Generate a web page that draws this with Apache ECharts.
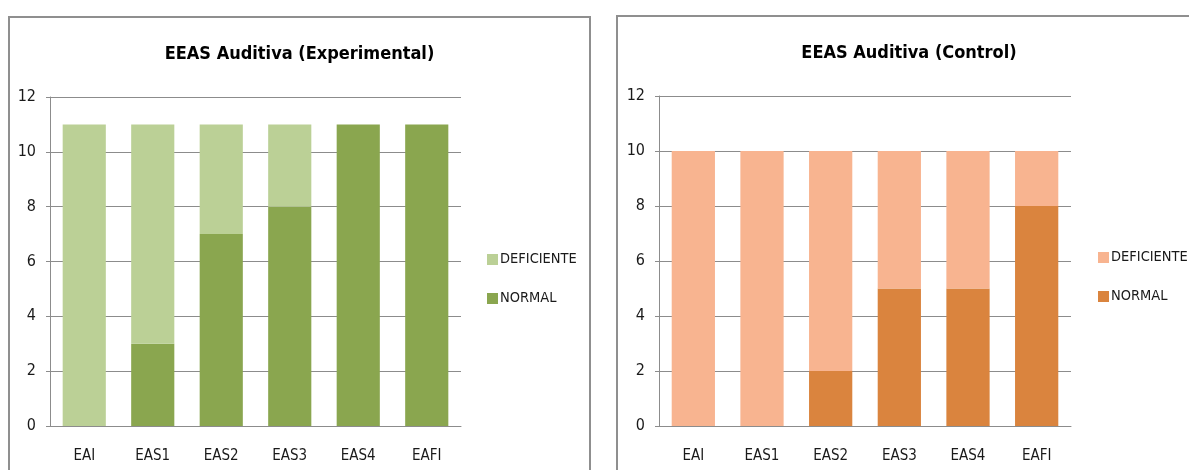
<!DOCTYPE html>
<html>
<head>
<meta charset="utf-8">
<script src="https://cdn.jsdelivr.net/npm/echarts@6/dist/echarts.min.js"></script>
<style>
  html, body { margin: 0; padding: 0; background: #fff; width: 1189px; height: 470px; overflow: hidden; }
  .panel { position: absolute; box-sizing: border-box; border: 2px solid #8f8f8f; background: #fff; }
  #expPanel { left: 8px; top: 16px; width: 583px; height: 470px; }
  #ctlPanel { left: 616px; top: 15px; width: 586px; height: 470px; }
</style>
</head>
<body>
<div id="expPanel" class="panel"></div>
<div id="ctlPanel" class="panel"></div>
<script>
// Evaluation stages
const categories = ['EAI', 'EAS1', 'EAS2', 'EAS3', 'EAS4', 'EAFI'];
const yTicks = [0, 2, 4, 6, 8, 10, 12];

// Experimental group counts
const expNormal = [0, 3, 7, 8, 11, 11];
const expDeficiente = [11, 8, 4, 3, 0, 0];

// Control group counts
const ctlNormal = [0, 0, 2, 5, 5, 8];
const ctlDeficiente = [10, 10, 8, 5, 5, 2];

const FONT = 'DejaVu Sans Condensed';

function buildOption(title, normal, deficiente, colNormal, colDef, grid, legendPos) {
  return {
    animation: false,
    textStyle: { fontFamily: FONT },
    title: {
      text: title,
      left: 'center',
      top: 22,
      textStyle: { fontFamily: FONT, fontWeight: 'bold', fontSize: 18, color: '#000' }
    },
    legend: {
      orient: 'vertical',
      left: legendPos.left,
      top: legendPos.top,
      itemWidth: 11,
      itemHeight: 11,
      itemGap: 24,
      icon: 'rect',
      data: ['DEFICIENTE', 'NORMAL'],
      textStyle: { fontFamily: FONT, fontSize: 14.5, color: '#1a1a1a', padding: [0, 0, 0, -3] }
    },
    grid: grid,
    xAxis: {
      type: 'category',
      data: categories,
      axisLine: { lineStyle: { color: '#8c8c8c', width: 1 } },
      axisTick: { show: false },
      axisLabel: { fontFamily: FONT, fontSize: 15, color: '#1a1a1a', margin: 23 }
    },
    yAxis: {
      type: 'value',
      min: yTicks[0],
      max: yTicks[yTicks.length - 1],
      interval: yTicks[1] - yTicks[0],
      axisLine: { show: true, lineStyle: { color: '#8c8c8c', width: 1 } },
      axisTick: { show: true, length: 4, lineStyle: { color: '#8c8c8c' } },
      splitLine: { lineStyle: { color: '#8c8c8c', width: 1 } },
      axisLabel: { fontFamily: FONT, fontSize: 16, color: '#1a1a1a', margin: 14 }
    },
    series: [
      {
        name: 'NORMAL',
        type: 'bar',
        stack: 'total',
        data: normal,
        barWidth: '63%',
        itemStyle: { color: colNormal }
      },
      {
        name: 'DEFICIENTE',
        type: 'bar',
        stack: 'total',
        data: deficiente,
        barWidth: '63%',
        itemStyle: { color: colDef }
      }
    ]
  };
}

const expChart = echarts.init(document.getElementById('expPanel'), null, { renderer: 'canvas' });
expChart.setOption(buildOption(
  'EEAS Auditiva (Experimental)',
  expNormal, expDeficiente,
  '#8aa64f', '#bbd096',
  { left: 40, top: 79, width: 411, height: 329 },
  { left: 472, top: 229 }
));

const ctlChart = echarts.init(document.getElementById('ctlPanel'), null, { renderer: 'canvas' });
ctlChart.setOption(buildOption(
  'EEAS Auditiva (Control)',
  ctlNormal, ctlDeficiente,
  '#da843e', '#f8b490',
  { left: 41, top: 79, width: 412, height: 330 },
  { left: 475, top: 228 }
));
</script>
</body>
</html>
